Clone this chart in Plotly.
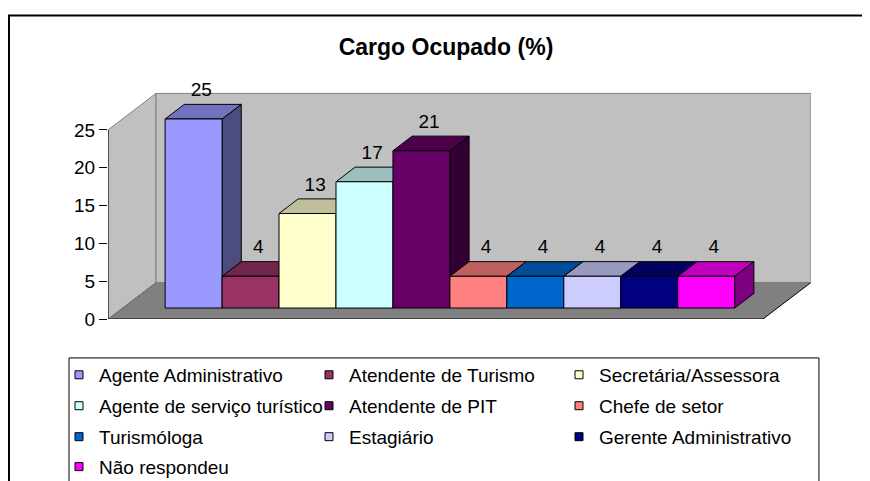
import plotly.graph_objects as go

# ---------------- data ----------------
categories = ["Agente Administrativo", "Atendente de Turismo", "Secretária/Assessora",
              "Agente de serviço turístico", "Atendente de PIT", "Chefe de setor",
              "Turismóloga", "Estagiário", "Gerente Administrativo", "Não respondeu"]
values = [25, 4.2, 12.5, 16.7, 20.8, 4.2, 4.2, 4.2, 4.2, 4.2]
value_labels = ["25", "4", "13", "17", "21", "4", "4", "4", "4", "4"]
front_colors = ["#9999FF", "#993366", "#FFFFCC", "#CCFFFF", "#660066",
                "#FF8080", "#0066CC", "#CCCCFF", "#000080", "#FF00FF"]
y_ticks = [0, 5, 10, 15, 20, 25]
title_text = "Cargo Ocupado (%)"

# ---------------- geometry / style ----------------
W, H = 870, 481
OFF = 8                                    # page body margin of the html page
FONT = "Liberation Sans, Arial, sans-serif"
N = len(values)
GAP = 0.75
FLOOR_W = N + 2 * GAP
YMAX = 25
DX, DY = 0.843, 4.83                       # depth of 3D box (data units)
F0, F1 = 0.3, 0.7
X0PX, Y0PX = 108, 319                      # target pixel of data origin
PXX, PXY = 56.96, 7.576                    # pixels per data unit
XR = [0, FLOOR_W + DX]
YR = [0, 32]

PL = X0PX - OFF
PB = Y0PX - OFF
PR = PL + (XR[1] - XR[0]) * PXX
PT = PB - (YR[1] - YR[0]) * PXY


def shade(hexc, f):
    h = hexc.lstrip("#")
    r, g, b = (int(h[i:i + 2], 16) for i in (0, 2, 4))
    return "#%02X%02X%02X" % (int(r * f), int(g * f), int(b * f))


def xp(px):  # target pixel -> paper
    return (px - OFF - PL) / (PR - PL)


def yp(py):
    return (PB - (py - OFF)) / (PB - PT)


def poly(pts, fill, line, width=1):
    xs = [p[0] for p in pts] + [pts[0][0]]
    ys = [p[1] for p in pts] + [pts[0][1]]
    return go.Scatter(x=xs, y=ys, mode="lines", fill="toself", fillcolor=fill,
                      line=dict(color=line, width=width), hoverinfo="skip",
                      showlegend=False, cliponaxis=False)


fig = go.Figure()

# floor, walls
fig.add_trace(poly([(0, 0), (FLOOR_W, 0), (FLOOR_W + DX, DY), (DX, DY)], "#808080", "#000000"))
fig.add_trace(poly([(0, 0), (0, YMAX), (DX, YMAX + DY), (DX, DY)], "#C0C0C0", "#808080"))
fig.add_trace(poly([(DX, DY), (FLOOR_W + DX, DY), (FLOOR_W + DX, YMAX + DY), (DX, YMAX + DY)],
                   "#C0C0C0", "#808080"))
fig.add_trace(go.Scatter(x=[0, 0], y=[0, YMAX], mode="lines", line=dict(color="black", width=1),
                         hoverinfo="skip", showlegend=False, cliponaxis=False))

# bars
BDX, BDY = (F1 - F0) * DX, (F1 - F0) * DY
lab_x, lab_y = [], []
for i, (v, c) in enumerate(zip(values, front_colors)):
    L = GAP + i + F0 * DX
    B = F0 * DY
    R = L + 1
    fig.add_trace(poly([(R, B), (R + BDX, B + BDY), (R + BDX, B + v + BDY), (R, B + v)],
                       shade(c, 0.5), "#000000"))
    fig.add_trace(poly([(L, B + v), (R, B + v), (R + BDX, B + v + BDY), (L + BDX, B + v + BDY)],
                       shade(c, 0.75), "#000000"))
    fig.add_trace(poly([(L, B), (R, B), (R, B + v), (L, B + v)], c, "#000000"))
    lab_x.append(L + 0.5 + BDX * 0.4)
    lab_y.append(B + v + BDY + 13 / PXY)

fig.add_trace(go.Scatter(x=lab_x, y=lab_y, mode="text", text=value_labels,
                         textposition="middle center",
                         textfont=dict(family=FONT, size=19, color="black"),
                         hoverinfo="skip", showlegend=False, cliponaxis=False))

# legend entries: one plotly legend per row (3 entries per row)
row_tops = [356, 387, 418, 448]
legend_names = ["legend", "legend2", "legend3", "legend4"]
for k, (name, c) in enumerate(zip(categories, front_colors)):
    fig.add_trace(go.Scatter(x=[None], y=[None], mode="markers", name=name,
                             legend=legend_names[k // 3],
                             marker=dict(symbol="square", size=8, color=c,
                                         line=dict(color="black", width=1))))

legend_common = dict(orientation="h", xanchor="left", yanchor="top",
                     entrywidth=205, entrywidthmode="pixels", bgcolor="rgba(0,0,0,0)",
                     borderwidth=0, font=dict(family=FONT, size=19, color="black"),
                     traceorder="normal", itemclick=False, itemdoubleclick=False)
legends = {}
for ln, top in zip(legend_names, row_tops):
    legends[ln] = dict(legend_common, x=xp(59), y=yp(top))

fig.update_layout(
    width=W, height=H, autosize=False,
    margin=dict(l=PL, r=W - PR, t=PT, b=H - PB, pad=0, autoexpand=False),
    paper_bgcolor="white", plot_bgcolor="white",
    font=dict(family=FONT, size=19, color="black"),
    title=dict(text="<b>" + title_text + "</b>", font=dict(family=FONT, size=23, color="black"),
               x=(446 - OFF) / W, xref="container", xanchor="center",
               y=1 - (47 - OFF) / H, yref="container", yanchor="middle"),
    xaxis=dict(range=XR, visible=False, fixedrange=True),
    yaxis=dict(range=YR, tickvals=y_ticks, ticks="outside", ticklen=8, tickcolor="black",
               tickwidth=1, showline=False, showgrid=False, zeroline=False,
               tickfont=dict(family=FONT, size=19, color="black"), automargin=False,
               fixedrange=True),
    showlegend=True,
    shapes=[
        dict(type="rect", xref="paper", yref="paper", x0=xp(9), x1=xp(900), y0=yp(15), y1=yp(520),
             line=dict(color="#000000", width=2), fillcolor="rgba(0,0,0,0)", layer="above"),
        dict(type="rect", xref="paper", yref="paper", x0=xp(69), x1=xp(819), y0=yp(358), y1=yp(520),
             line=dict(color="#000000", width=1), fillcolor="rgba(0,0,0,0)", layer="above"),
    ],
    **legends,
)

fig.write_html("out.html")
